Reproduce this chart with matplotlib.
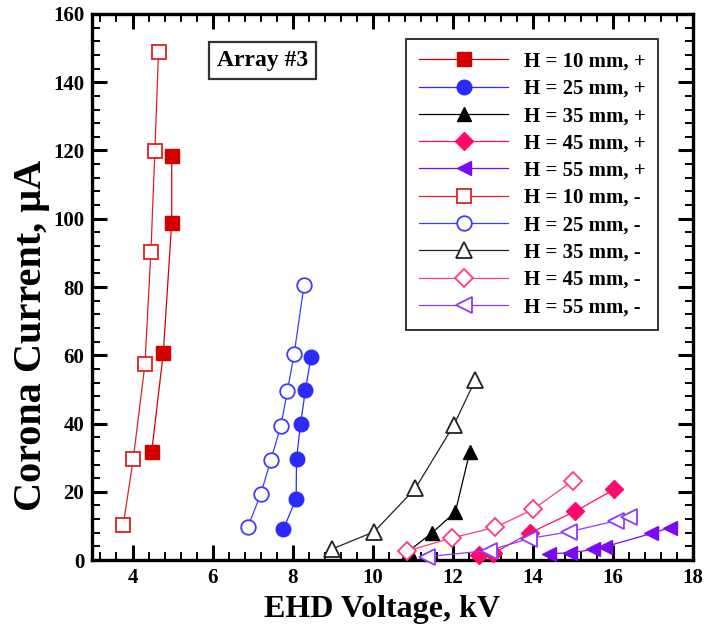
import matplotlib
matplotlib.use("Agg")
import matplotlib.pyplot as plt
from matplotlib.ticker import MultipleLocator

plt.rcParams['font.family'] = ['Liberation Serif', 'DejaVu Serif']
plt.rcParams['font.weight'] = 'bold'
plt.rcParams['mathtext.default'] = 'regular'

# ---- data (kV, uA) ----
h10p_x = [4.48, 4.77, 4.98, 4.98]
h10p_y = [31.8, 60.7, 98.9, 118.4]
h25p_x = [7.77, 8.09, 8.10, 8.20, 8.32, 8.46]
h25p_y = [9.0, 18.0, 29.7, 39.8, 49.7, 59.5]
h35p_x = [10.90, 11.49, 12.07, 12.43]
h35p_y = [2.6, 8.0, 14.1, 31.7]
h45p_x = [12.65, 13.02, 13.94, 15.07, 16.04]
h45p_y = [1.5, 2.0, 8.0, 14.3, 20.7]
h55p_x = [14.40, 14.93, 15.52, 15.81, 16.97, 17.43]
h55p_y = [1.9, 2.1, 3.1, 3.9, 7.8, 9.5]

h10m_x = [3.77, 4.02, 4.31, 4.46, 4.56, 4.65]
h10m_y = [10.4, 29.7, 57.3, 90.2, 119.9, 149.0]
h25m_x = [6.88, 7.21, 7.46, 7.71, 7.87, 8.04, 8.29]
h25m_y = [9.6, 19.5, 29.4, 39.4, 49.4, 60.4, 80.7]
h35m_x = [8.98, 10.04, 11.07, 12.03, 12.57]
h35m_y = [3.2, 8.3, 21.0, 39.5, 52.8]
h45m_x = [10.87, 11.99, 13.07, 14.02, 15.00]
h45m_y = [2.7, 6.5, 9.6, 14.9, 23.2]
h55m_x = [11.36, 12.90, 13.92, 14.92, 16.08, 16.42]
h55m_y = [1.0, 2.8, 6.3, 8.3, 11.5, 12.7]

labels = ['H = 10 mm, +', 'H = 25 mm, +', 'H = 35 mm, +', 'H = 45 mm, +', 'H = 55 mm, +',
          'H = 10 mm, -', 'H = 25 mm, -', 'H = 35 mm, -', 'H = 45 mm, -', 'H = 55 mm, -']

fig = plt.figure(figsize=(7.17, 6.35), dpi=100)
ax = fig.add_axes([0.129, 0.118, 0.837, 0.860])

red = '#d40000'
blue = '#2b2bff'
black = '#000000'
pink = '#ff0a6c'
purple = '#7a0af5'

lw = 0.9
filled = [
    (h10p_x, h10p_y, 's', red, 10),
    (h25p_x, h25p_y, 'o', blue, 10.5),
    (h35p_x, h35p_y, '^', black, 10.5),
    (h45p_x, h45p_y, 'D', pink, 9),
    (h55p_x, h55p_y, '<', purple, 10.5),
]
opened = [
    (h10m_x, h10m_y, 's', '#e02020', 10),
    (h25m_x, h25m_y, 'o', '#3d3dff', 10.5),
    (h35m_x, h35m_y, '^', '#222222', 11),
    (h45m_x, h45m_y, 'D', '#ff3a80', 9.5),
    (h55m_x, h55m_y, '<', '#8a3cff', 11),
]
handles = []
i = 0
for x, y, m, c, ms in filled:
    h, = ax.plot(x, y, color=c, lw=lw, marker=m, ms=ms, mfc=c, mec=c,
                 label=labels[i], clip_on=False, zorder=3)
    handles.append(h)
    i += 1
for x, y, m, c, ms in opened:
    h, = ax.plot(x, y, color=c, lw=lw, marker=m, ms=ms, mfc='white', mec=c, mew=1.3,
                 label=labels[i], clip_on=False, zorder=4)
    handles.append(h)
    i += 1

ax.set_xlim(3, 18)
ax.set_ylim(0, 160)
ax.xaxis.set_major_locator(MultipleLocator(2))
ax.xaxis.set_minor_locator(MultipleLocator(0.4))
ax.yaxis.set_major_locator(MultipleLocator(20))
ax.yaxis.set_minor_locator(MultipleLocator(4))
ax.tick_params(which='both', direction='in', top=True, right=True)
ax.tick_params(which='major', length=11, width=2.2, labelsize=15, pad=6)
ax.tick_params(which='minor', length=6, width=1.4)
for s in ax.spines.values():
    s.set_linewidth(2.4)

ax.set_xlabel('EHD Voltage, kV', fontsize=23, fontweight='bold')
ax.set_ylabel('Corona Current, \u03bcA', fontsize=29, fontweight='bold')
ax.xaxis.set_label_coords(0.482, -0.064)
ax.yaxis.set_label_coords(-0.071, 0.412)

ax.text(7.25, 146.3, 'Array #3', fontsize=17, fontweight='bold', ha='center', va='center',
        bbox=dict(boxstyle='square,pad=0.35', fc='white', ec='#333333', lw=1.6), zorder=5)

leg = ax.legend(handles=handles, loc='upper left', bbox_to_anchor=(0.523, 0.954),
                frameon=True, fancybox=False, edgecolor='#333333', fontsize=15,
                handlelength=4.3, handletextpad=0.75, labelspacing=0.35,
                borderpad=0.6, borderaxespad=0, framealpha=1)
leg.get_frame().set_linewidth(1.4)
for t in leg.get_texts():
    t.set_fontweight('bold')

fig.savefig('out.png', dpi=100)
